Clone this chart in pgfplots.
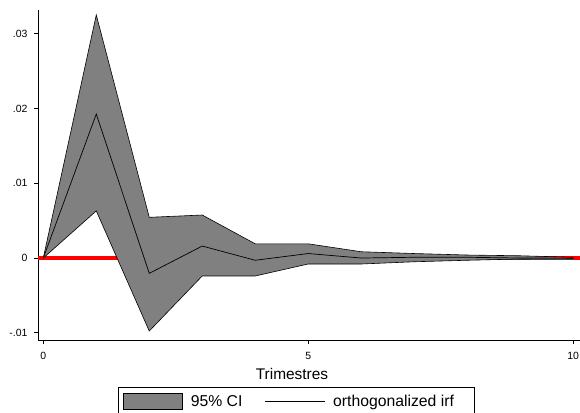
\documentclass[border=0pt]{standalone}
\usepackage{pgfplots}
\pgfplotsset{compat=1.18}
\usepackage{fontspec}
\setmainfont{Liberation Sans}
\pgfplotsset{
  ciimg/.style={legend image code/.code={\draw[##1] (0bp,-8bp) rectangle (59bp,8bp);}},
  lineimg/.style={legend image code/.code={\draw[##1] (0bp,0bp) -- (60bp,0bp);}},
}
\begin{document}
\begin{tikzpicture}
\begin{axis}[
  at={(38bp,73bp)}, anchor=south west,
  scale only axis, width=542bp, height=330bp,
  xmin=-0.1, xmax=10.13, ymin=-0.01096, ymax=0.03316,
  axis x line*=bottom, axis y line*=left,
  axis line style={black, line width=0.8bp},
  tick align=outside, major tick length=4bp,
  tick style={black, line width=0.8bp},
  xtick={0,5,10}, xticklabels={0,5,10},
  ytick={-0.01,0,0.01,0.02,0.03},
  yticklabels={-.01,0,.01,.02,.03},
  scaled y ticks=false,
  ticklabel style={font=\fontsize{10.5}{12}\selectfont},
  xticklabel style={yshift=-5bp},
  yticklabel style={xshift=-3bp},
  /pgf/number format/assume math mode=true,
  xlabel={Trimestres},
  xlabel style={font=\fontsize{15.5}{17}\selectfont, yshift=-2bp, xshift=-17bp},
  legend columns=2,
  legend cell align=left,
  legend style={at={(0.1476,-0.1424)}, anchor=north west,
    draw=black, line width=0.6bp, inner xsep=5bp, inner ysep=6bp,
    font=\fontsize{15.8}{17}\selectfont,
    /tikz/every odd column/.append style={column sep=6bp},
    /tikz/every even column/.append style={column sep=20bp}},
]
\addplot[red, line width=3.2bp, forget plot] coordinates {(-0.1,0) (10.13,0)};
\addplot[fill=gray, draw=black, line width=0.6bp, ciimg]
coordinates {
(0,0) (1,0.0325) (2,0.00544) (3,0.00575) (4,0.0019) (5,0.0019) (6,0.00084) (7,0.0006) (8,0.0004) (9,0.0003) (10,0.0001)
(10,-0.0001) (9,-0.00013) (8,-0.0003) (7,-0.0005) (6,-0.0008) (5,-0.0008) (4,-0.0024) (3,-0.0024) (2,-0.00976) (1,0.0063) (0,0)
} -- cycle;
\addlegendentry{95\% CI}
\addplot[black, line width=0.7bp, lineimg]
coordinates {
(0,0) (1,0.01925) (2,-0.00205) (3,0.0016) (4,-0.0003) (5,0.0006) (6,0.0) (7,0.0001) (8,0.0001) (9,0.0) (10,0.0)
};
\addlegendentry{orthogonalized irf\kern13bp\null}
\end{axis}
\pgfresetboundingbox
\path[use as bounding box] (0,0) rectangle (580bp,413bp);
\end{tikzpicture}
\end{document}
